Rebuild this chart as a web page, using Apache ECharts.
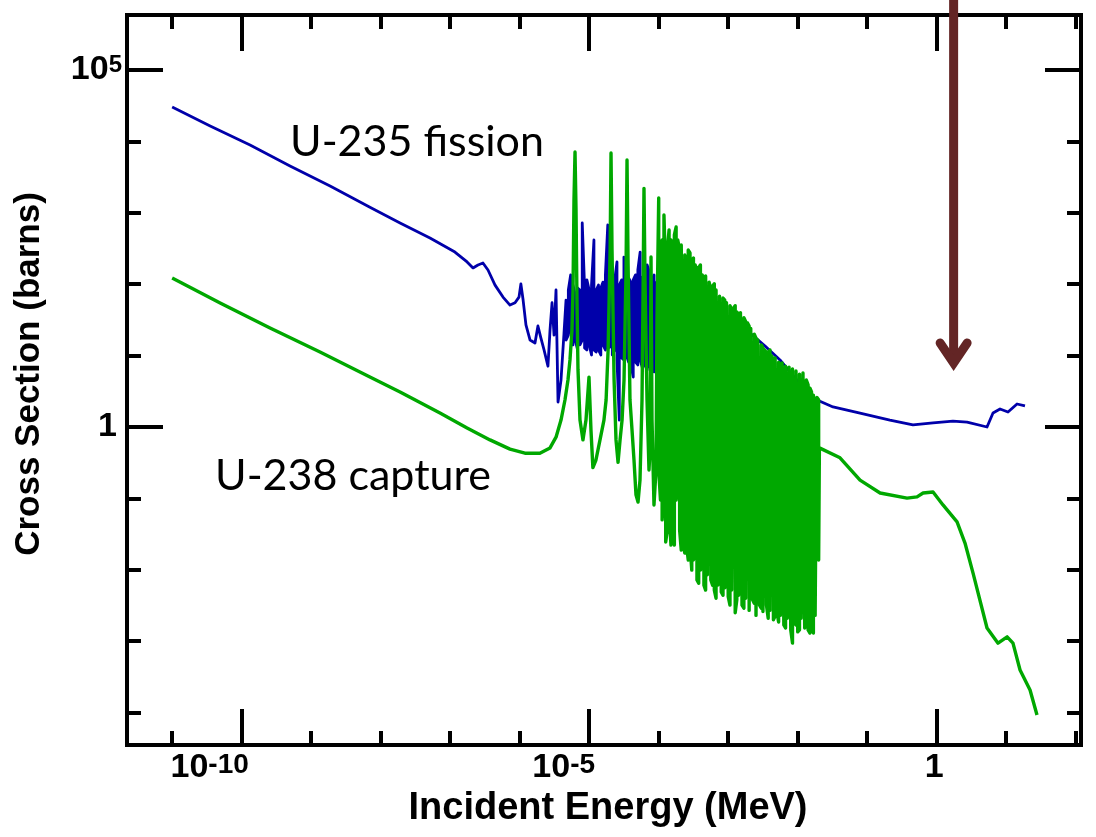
<!DOCTYPE html>
<html>
<head>
<meta charset="utf-8">
<script src="https://cdn.jsdelivr.net/npm/echarts@6/dist/echarts.min.js"></script>
<style>
  html, body { margin: 0; padding: 0; background: #ffffff; }
  #chart { width: 1096px; height: 837px; }
</style>
</head>
<body>
<div id="chart"></div>
<script>
// U-235 fission cross section: [incident energy (MeV), cross section (barns)]
const u235Fission = [
  // thermal / 1/v region
  [1.0e-11, 30300], [3.52e-11, 16400], [1.32e-10, 8900], [4.96e-10, 4520], [1.87e-9, 2370],
  [7.0e-9, 1200], [1.90e-8, 720], [5.12e-8, 444], [1.17e-7, 282], [1.75e-7, 205],
  [2.13e-7, 169], [2.51e-7, 186], [2.96e-7, 198], [3.50e-7, 158], [4.42e-7, 97],
  [5.75e-7, 66], [7.25e-7, 51], [8.57e-7, 55], [9.77e-7, 66], [1.04e-6, 101],
  [1.12e-6, 60], [1.23e-6, 27], [1.41e-6, 16.5], [1.66e-6, 15], [1.83e-6, 26],
  [2.02e-6, 17.6], [2.24e-6, 12], [2.55e-6, 7.1], [2.73e-6, 22.8], [2.92e-6, 55],
  [3.12e-6, 19.4], [3.33e-6, 83], [3.56e-6, 2.24], [3.93e-6, 4.55], [4.34e-6, 20.7],
  // resolved resonance band
  [4.64e-6, 60], [4.64e-6, 16.5], [5.01e-6, 19.4], [5.01e-6, 83],
  [5.41e-6, 135], [5.41e-6, 22.8], [5.84e-6, 14.1], [5.84e-6, 97.5],
  [6.31e-6, 70.6], [6.31e-6, 16.5], [6.81e-6, 12.0], [6.81e-6, 88.5],
  [7.36e-6, 83], [7.36e-6, 14.1], [7.94e-6, 16.5], [7.94e-6, 720],
  [8.58e-6, 91.4], [8.58e-6, 12.8], [9.26e-6, 12.0], [9.26e-6, 115],
  [1.00e-5, 83], [1.00e-5, 14.1], [1.08e-5, 10.2], [1.08e-5, 97.5],
  [1.17e-5, 416], [1.17e-5, 12.0], [1.26e-5, 11.2], [1.26e-5, 83],
  [1.36e-5, 97.5], [1.36e-5, 12.0], [1.47e-5, 10.2], [1.47e-5, 88.5],
  [1.58e-5, 107], [1.58e-5, 14.1], [1.71e-5, 12.0], [1.71e-5, 135],
  [1.85e-5, 675], [1.85e-5, 12.8], [2.00e-5, 13.2], [2.00e-5, 97.5],
  [2.15e-5, 107], [2.15e-5, 10.2], [2.33e-5, 12.0], [2.33e-5, 115],
  [2.51e-5, 205], [2.51e-5, 8.7], [2.71e-5, 1.25], [2.71e-5, 97.5],
  [2.93e-5, 115], [2.93e-5, 9.25], [3.16e-5, 8.7], [3.16e-5, 240],
  [3.42e-5, 218], [3.42e-5, 10.2], [3.69e-5, 8.1], [3.69e-5, 122],
  [3.98e-5, 107], [3.98e-5, 7.4], [4.30e-5, 5.0], [4.30e-5, 115],
  [4.64e-5, 135], [4.64e-5, 8.1], [5.01e-5, 7.4], [5.01e-5, 158],
  [5.41e-5, 282], [5.41e-5, 8.7], [5.84e-5, 6.7], [5.84e-5, 126],
  [6.31e-5, 126], [6.31e-5, 7.4], [6.81e-5, 6.3], [6.81e-5, 186],
  [7.36e-5, 148], [7.36e-5, 6.9], [7.94e-5, 6.7], [7.94e-5, 115],
  [8.58e-5, 135], [8.58e-5, 5.9], [9.26e-5, 6.3], [9.26e-5, 104],
  [1.00e-4, 122], [1.00e-4, 5.7], [1.08e-4, 4.86], [1.08e-4, 130],
  [1.17e-4, 135], [1.17e-4, 5.35], [1.26e-4, 1.25], [1.26e-4, 135],
  // upper resonance range and fast region
  [1.55e-4, 83], [2.02e-4, 107], [2.82e-4, 78], [3.93e-4, 60], [5.47e-4, 49.5],
  [7.62e-4, 40.8], [1.25e-3, 29.6], [2.06e-3, 20.7], [3.39e-3, 13.6], [5.56e-3, 8.7],
  [9.14e-3, 4.86], [1.27e-2, 3.52], [1.66e-2, 2.63], [1.90e-2, 2.39], [3.22e-2, 1.91],
  [7.88e-2, 1.57], [0.212, 1.25], [0.455, 1.07], [0.885, 1.14], [1.71, 1.21],
  [2.73, 1.17], [5.29, 1.0], [6.45, 1.57], [8.14, 1.79], [10.6, 1.62],
  [14.3, 2.10], [18.6, 1.97]
];

// U-238 capture cross section: [incident energy (MeV), cross section (barns)]
const u238Capture = [
  // thermal / 1/v region
  [1.0e-11, 122], [4.9e-11, 54.6], [2.56e-10, 24.4], [1.34e-9, 11.2], [7.0e-9, 5.0],
  [1.90e-8, 3.09], [7.13e-8, 1.57], [1.75e-7, 0.97], [3.74e-7, 0.66], [7.25e-7, 0.49],
  [1.19e-6, 0.43], [1.95e-6, 0.43],
  // first resolved resonances
  [2.73e-6, 0.51], [3.33e-6, 0.72], [3.93e-6, 1.25], [4.48e-6, 2.39], [4.95e-6, 4.55],
  [5.29e-6, 8.7], [5.65e-6, 22.8], [5.85e-6, 83], [6.04e-6, 1510], [6.25e-6, 7100],
  [6.46e-6, 1100], [6.67e-6, 60], [6.90e-6, 6.3], [7.37e-6, 1.25], [8.13e-6, 0.66],
  [8.99e-6, 1.25], [9.93e-6, 5.0], [1.06e-5, 0.91], [1.13e-5, 0.27], [1.25e-5, 0.345],
  [1.43e-5, 0.66], [1.63e-5, 1.25], [1.75e-5, 2.39], [1.87e-5, 12], [2.0e-5, 300],
  [2.06e-5, 6900], [2.13e-5, 300], [2.28e-5, 4.55], [2.43e-5, 0.66], [2.60e-5, 0.32],
  [2.78e-5, 0.66], [2.97e-5, 1.25], [3.17e-5, 4.55], [3.39e-5, 158], [3.50e-5, 5500],
  [3.62e-5, 218], [3.86e-5, 2.39], [4.13e-5, 0.91], [4.41e-5, 0.345], [4.71e-5, 0.112],
  [5.04e-5, 0.089], [5.38e-5, 0.18], [5.75e-5, 2.39], [5.94e-5, 60], [6.14e-5, 2200],
  [6.35e-5, 115], [6.79e-5, 2.39], [7.25e-5, 0.25], [7.50e-5, 0.48], [7.75e-5, 240],
  [8.01e-5, 1.25], [8.55e-5, 0.081], [9.14e-5, 0.25], [9.45e-5, 31.5],
  // dense resonance region up to 20 keV
  [1.00e-4, 1610], [1.00e-4, 0.25], [1.06e-4, 0.095], [1.06e-4, 83],
  [1.12e-4, 416], [1.12e-4, 0.050], [1.19e-4, 0.131], [1.19e-4, 931],
  [1.26e-4, 135], [1.26e-4, 0.0245], [1.33e-4, 0.036], [1.33e-4, 301],
  [1.41e-4, 574], [1.41e-4, 0.069], [1.50e-4, 0.0222], [1.50e-4, 416],
  [1.58e-4, 354], [1.58e-4, 0.050], [1.68e-4, 0.0222], [1.68e-4, 489],
  [1.78e-4, 632], [1.78e-4, 0.095], [1.88e-4, 0.18], [1.88e-4, 416],
  [2.00e-4, 301], [2.00e-4, 0.036], [2.11e-4, 0.0189], [2.11e-4, 354],
  [2.24e-4, 332], [2.24e-4, 0.026], [2.37e-4, 0.0172], [2.37e-4, 256],
  [2.51e-4, 205], [2.51e-4, 0.0222], [2.66e-4, 0.0137], [2.66e-4, 301],
  [2.82e-4, 274], [2.82e-4, 0.0222], [2.99e-4, 0.0099], [2.99e-4, 218],
  [3.16e-4, 233], [3.16e-4, 0.0137], [3.35e-4, 0.0189], [3.35e-4, 186],
  [3.55e-4, 158], [3.55e-4, 0.0072], [3.76e-4, 0.0065], [3.76e-4, 169],
  [3.98e-4, 186], [3.98e-4, 0.0099], [4.22e-4, 0.0117], [4.22e-4, 135],
  [4.47e-4, 115], [4.47e-4, 0.0061], [4.73e-4, 0.0052], [4.73e-4, 130],
  [5.01e-4, 135], [5.01e-4, 0.0085], [5.31e-4, 0.0085], [5.31e-4, 107],
  [5.62e-4, 83], [5.62e-4, 0.0072], [5.96e-4, 0.0061], [5.96e-4, 94],
  [6.31e-4, 101], [6.31e-4, 0.0052], [6.68e-4, 0.0040], [6.68e-4, 83],
  [7.08e-4, 78], [7.08e-4, 0.0061], [7.50e-4, 0.0072], [7.50e-4, 68],
  [7.94e-4, 71], [7.94e-4, 0.0049], [8.41e-4, 0.0044], [8.41e-4, 64],
  [8.91e-4, 60], [8.91e-4, 0.0056], [9.44e-4, 0.0065], [9.44e-4, 55],
  [1.00e-3, 56], [1.00e-3, 0.0042], [1.06e-3, 0.0032], [1.06e-3, 50],
  [1.12e-3, 44], [1.12e-3, 0.0052], [1.19e-3, 0.0052], [1.19e-3, 46],
  [1.26e-3, 50], [1.26e-3, 0.0025], [1.33e-3, 0.0038], [1.33e-3, 41],
  [1.41e-3, 37], [1.41e-3, 0.0044], [1.50e-3, 0.0044], [1.50e-3, 40],
  [1.58e-3, 41], [1.58e-3, 0.0032], [1.68e-3, 0.0029], [1.68e-3, 34],
  [1.78e-3, 30], [1.78e-3, 0.0040], [1.88e-3, 0.0038], [1.88e-3, 29],
  [2.00e-3, 26], [2.00e-3, 0.0027], [2.11e-3, 0.0026], [2.11e-3, 24],
  [2.24e-3, 23], [2.24e-3, 0.0038], [2.37e-3, 0.0034], [2.37e-3, 20],
  [2.51e-3, 17.6], [2.51e-3, 0.0023], [2.66e-3, 0.0023], [2.66e-3, 16.5],
  [2.82e-3, 15.5], [2.82e-3, 0.0032], [2.99e-3, 0.0029], [2.99e-3, 14.1],
  [3.16e-3, 12.8], [3.16e-3, 0.0026], [3.35e-3, 0.0026], [3.35e-3, 12.0],
  [3.55e-3, 10.9], [3.55e-3, 0.0032], [3.76e-3, 0.0021], [3.76e-3, 11.2],
  [3.98e-3, 12.0], [3.98e-3, 0.0027], [4.22e-3, 0.0027], [4.22e-3, 9.9],
  [4.47e-3, 8.7], [4.47e-3, 0.0020], [4.73e-3, 0.00225], [4.73e-3, 9.25],
  [5.01e-3, 9.25], [5.01e-3, 0.0026], [5.31e-3, 0.00186], [5.31e-3, 8.1],
  [5.62e-3, 7.4], [5.62e-3, 0.0023], [5.96e-3, 0.0023], [5.96e-3, 7.9],
  [6.31e-3, 8.1], [6.31e-3, 0.00169], [6.68e-3, 0.00153], [6.68e-3, 7.1],
  [7.08e-3, 6.7], [7.08e-3, 0.0021], [7.50e-3, 0.0020], [7.50e-3, 6.9],
  [7.94e-3, 7.1], [7.94e-3, 0.00144], [8.41e-3, 0.00094], [8.41e-3, 6.5],
  [8.91e-3, 6.3], [8.91e-3, 0.00186], [9.44e-3, 0.00169], [9.44e-3, 6.1],
  [1.00e-2, 5.9], [1.00e-2, 0.00135], [1.06e-2, 0.00144], [1.06e-2, 5.5],
  [1.12e-2, 5.35], [1.12e-2, 0.0021], [1.19e-2, 0.0020], [1.19e-2, 5.7],
  [1.26e-2, 5.9], [1.26e-2, 0.00153], [1.33e-2, 0.00169], [1.33e-2, 4.55],
  [1.41e-2, 3.9], [1.41e-2, 0.00144], [1.50e-2, 0.0013], [1.50e-2, 3.5],
  [1.58e-2, 3.1], [1.58e-2, 0.00186], [1.68e-2, 0.0013], [1.68e-2, 2.8],
  [1.78e-2, 2.8], [1.78e-2, 0.0023], [1.88e-2, 0.0022], [1.88e-2, 2.6],
  [2.00e-2, 2.4], [2.00e-2, 0.0137],
  // unresolved / fast region
  [2.05e-2, 0.51], [4.06e-2, 0.37], [7.88e-2, 0.18], [0.153, 0.119], [0.374, 0.101],
  [0.521, 0.105], [0.636, 0.119], [0.885, 0.123], [1.23, 0.081], [1.96, 0.047],
  [2.55, 0.0237], [3.33, 0.0090], [5.29, 0.00153], [7.62, 0.00094], [10.3, 0.00115],
  [12.5, 0.00094], [15.8, 0.000395], [22.0, 0.000207], [27.7, 0.0000925]
];

// Axis ranges and tick values
const energyRange = [2.24e-12, 119];
const sigmaRange = [3.52e-5, 5.89e5];
const energyMajorTicks = [1e-10, 1e-5, 1];
const energyMinorTicks = [1e-11, 1e-10, 1e-9, 1e-8, 1e-7, 1e-6, 1e-5, 1e-4, 1e-3, 1e-2, 1e-1, 1, 10, 100];
const sigmaMajorTicks = [1, 1e5];
const sigmaMinorTicks = [1e-4, 1e-3, 1e-2, 1e-1, 1, 10, 100, 1e3, 1e4, 1e5];

// Arrow marking the typical fission-neutron energy (tip position)
const arrowEnergy = 1.75;
const arrowTipSigma = 5.9;

const seriesNames = ['U-235 fission', 'U-238 capture'];
const seriesColors = ['#0000aa', '#00a800'];

const chart = echarts.init(document.getElementById('chart'), null, { renderer: 'canvas' });

const gridBox = { left: 127, right: 15, top: 15, bottom: 92, containLabel: false };
const axisFont = 'Liberation Sans, Arial, sans-serif';
const frameLine = { show: true, onZero: false, lineStyle: { color: '#000', width: 4, cap: 'square' } };

function logAxis(kind, extra) {
  const range = kind === 'x' ? energyRange : sigmaRange;
  return Object.assign({
    type: 'log',
    logBase: 10,
    min: range[0],
    max: range[1],
    splitLine: { show: false },
    minorTick: { show: false },
    minorSplitLine: { show: false },
    axisLine: { show: false },
    axisLabel: { show: false },
    axisTick: { show: false }
  }, extra);
}

function tickStyle(values, len) {
  return { show: true, inside: true, length: len, customValues: values, lineStyle: { color: '#000', width: 4 } };
}

function energyLabel(v) {
  const e = Math.round(Math.log10(v));
  if (e === 0) return '{b|1}{g0|}';
  return '{b|10}{s|' + e + '}{g' + (-e) + '|}';
}

function sigmaLabel(v) {
  const e = Math.round(Math.log10(v));
  if (e === 0) return '{b|1}{g|}';
  return '{b|10}{s|' + e + '}';
}

const MINOR = 14, MAJOR = 36;

const option = {
  animation: false,
  backgroundColor: '#ffffff',
  grid: [Object.assign({}, gridBox), Object.assign({}, gridBox)],
  xAxis: [
    logAxis('x', {
      gridIndex: 0, position: 'bottom',
      axisLine: frameLine,
      axisTick: tickStyle(energyMinorTicks, MINOR),
      axisLabel: {
        show: true, customValues: energyMajorTicks, margin: 6, formatter: energyLabel,
        rich: {
          b: { fontSize: 34, fontWeight: 'bold', fontFamily: axisFont, color: '#000', lineHeight: 34 },
          s: { fontSize: 28, fontWeight: 'bold', fontFamily: axisFont, color: '#000', lineHeight: 28, verticalAlign: 'top' },
          g10: { width: 64 }, g5: { width: 51 }, g0: { width: 5 }
        }
      },
      name: 'Incident Energy (MeV)', nameLocation: 'middle', nameGap: 36,
      nameTextStyle: { fontSize: 38, fontWeight: 'bold', fontFamily: axisFont, color: '#000', padding: [0, 0, 0, 8] }
    }),
    logAxis('x', { gridIndex: 0, position: 'top', axisLine: frameLine, axisTick: tickStyle(energyMinorTicks, MINOR) }),
    logAxis('x', { gridIndex: 1, position: 'bottom', axisTick: tickStyle(energyMajorTicks, MAJOR) }),
    logAxis('x', { gridIndex: 1, position: 'top', axisTick: tickStyle(energyMajorTicks, MAJOR) })
  ],
  yAxis: [
    logAxis('y', {
      gridIndex: 0, position: 'left',
      axisLine: frameLine,
      axisTick: tickStyle(sigmaMinorTicks, MINOR),
      axisLabel: {
        show: true, customValues: sigmaMajorTicks, margin: 5, formatter: sigmaLabel,
        rich: {
          b: { fontSize: 34, fontWeight: 'bold', fontFamily: axisFont, color: '#000', lineHeight: 34 },
          s: { fontSize: 24, fontWeight: 'bold', fontFamily: axisFont, color: '#000', lineHeight: 24, verticalAlign: 'top' },
          g: { width: 5 }
        }
      },
      name: 'Cross Section (barns)', nameLocation: 'middle', nameGap: 80, nameRotate: 90,
      nameTextStyle: { fontSize: 35, fontWeight: 'bold', fontFamily: axisFont, color: '#000', padding: [0, 0, 0, 12] }
    }),
    logAxis('y', { gridIndex: 0, position: 'right', axisLine: frameLine, axisTick: tickStyle(sigmaMinorTicks, MINOR) }),
    logAxis('y', { gridIndex: 1, position: 'left', axisTick: tickStyle(sigmaMajorTicks, MAJOR) }),
    logAxis('y', { gridIndex: 1, position: 'right', axisTick: tickStyle(sigmaMajorTicks, MAJOR) })
  ],
  series: [
    {
      name: seriesNames[0], type: 'line', xAxisIndex: 0, yAxisIndex: 0,
      data: u235Fission, showSymbol: false, symbol: 'none', z: 2,
      lineStyle: { color: seriesColors[0], width: 2.8, join: 'round' }
    },
    {
      name: seriesNames[1], type: 'line', xAxisIndex: 0, yAxisIndex: 0,
      data: u238Capture, showSymbol: false, symbol: 'none', z: 3,
      lineStyle: { color: seriesColors[1], width: 3.4, join: 'round' }
    }
  ]
};

chart.setOption(option);

// Curve labels and the arrow, anchored through the axes
const tip = chart.convertToPixel({ xAxisIndex: 0, yAxisIndex: 0 }, [arrowEnergy, arrowTipSigma]);
const arrowColor = '#632525';
const apexY = tip[1] - 9; // centre of the mitred apex, so the outer point lands on the tip
chart.setOption({
  graphic: [
    {
      type: 'text', z: 20,
      style: { text: seriesNames[0], x: 290, y: 142, fill: '#000', font: '43px Lato, "Open Sans", sans-serif', align: 'left', verticalAlign: 'middle', textAlign: 'left', textVerticalAlign: 'middle' }
    },
    {
      type: 'text', z: 20,
      style: { text: seriesNames[1], x: 215, y: 476, fill: '#000', font: '43px Lato, "Open Sans", sans-serif', align: 'left', verticalAlign: 'middle', textAlign: 'left', textVerticalAlign: 'middle' }
    },
    {
      type: 'line', z: 30,
      shape: { x1: tip[0], y1: 0, x2: tip[0], y2: apexY },
      style: { stroke: arrowColor, lineWidth: 9, lineCap: 'butt' }
    },
    {
      type: 'polyline', z: 30,
      shape: { points: [[tip[0] - 13.5, apexY - 20], [tip[0], apexY], [tip[0] + 13.5, apexY - 20]] },
      style: { stroke: arrowColor, lineWidth: 9, lineCap: 'round', lineJoin: 'miter', fill: null }
    }
  ]
});
</script>
</body>
</html>
